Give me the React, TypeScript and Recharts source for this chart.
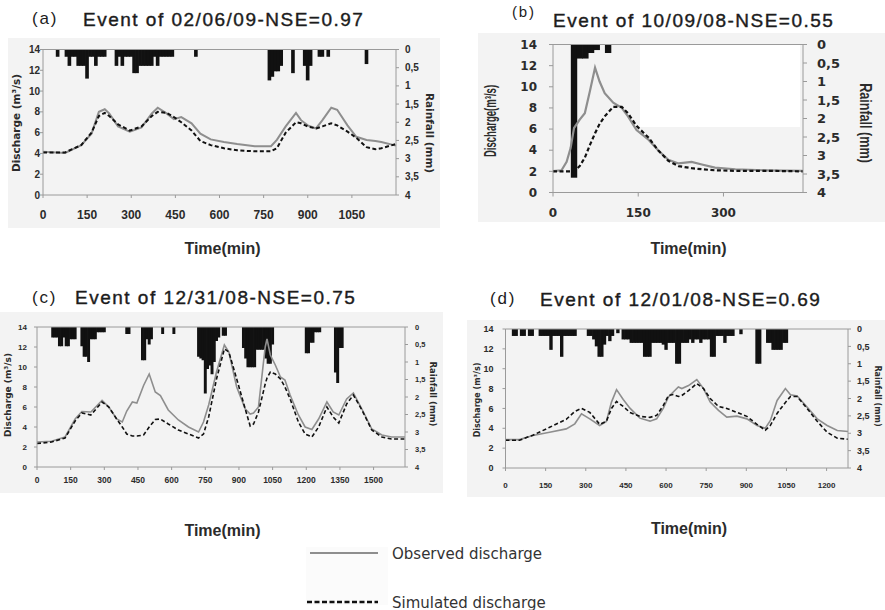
import { Bar, ComposedChart, Line, ReferenceLine, XAxis, YAxis } from "recharts";

// panel (a) event of 02/06/09
const timeA = [0, 75, 130, 165, 190, 210, 225, 255, 295, 335, 370, 390, 420, 445, 470, 505, 535, 570, 615, 660, 720, 775, 795, 825, 860, 877, 900, 928, 950, 980, 1000, 1035, 1065, 1100, 1130, 1150, 1200];
const obsA = [4.15, 4.05, 4.8, 5.9, 8.0, 8.25, 7.85, 6.6, 6.1, 6.5, 7.85, 8.4, 7.85, 7.3, 7.5, 6.9, 5.9, 5.35, 5.1, 4.9, 4.7, 4.7, 5.3, 6.6, 7.9, 7.2, 6.7, 6.4, 7.2, 8.4, 8.2, 6.7, 5.6, 5.3, 5.2, 5.1, 4.75];
const simA = [4.1, 4.1, 4.8, 6.0, 7.6, 7.9, 7.6, 6.8, 6.2, 6.6, 7.6, 8.0, 7.9, 7.5, 7.0, 6.2, 5.2, 4.8, 4.5, 4.3, 4.2, 4.2, 4.5, 6.0, 7.0, 6.9, 6.6, 6.4, 6.6, 6.9, 6.7, 6.1, 5.5, 4.6, 4.4, 4.5, 4.9];
const rainTimeA = [50, 80, 90, 100, 110, 120, 130, 140, 150, 160, 170, 180, 190, 200, 210, 250, 260, 270, 280, 290, 300, 310, 320, 330, 340, 350, 360, 370, 380, 390, 400, 410, 420, 430, 440, 520, 770, 780, 790, 800, 810, 850, 890, 900, 910, 940, 950, 970, 1100];
const rainA = [0.2, 0.2, 0.45, 0.2, 0.2, 0.45, 0.45, 0.45, 0.8, 0.2, 0.2, 0.45, 0.2, 0.2, 0.2, 0.45, 0.2, 0.45, 0.2, 0.2, 0.2, 0.65, 0.65, 0.45, 0.45, 0.45, 0.45, 0.45, 0.2, 0.45, 0.2, 0.2, 0.2, 0.2, 0.2, 0.2, 0.85, 0.75, 0.6, 0.6, 0.45, 0.65, 0.45, 0.85, 0.45, 0.2, 0.2, 0.2, 0.4];
const xTicksA = [0, 150, 300, 450, 600, 750, 900, 1050];

// panel (b) event of 10/09/08
const timeB = [0, 15, 24, 31, 37, 47, 56, 65, 74, 82, 91, 106, 121, 132, 147, 168, 185, 203, 221, 244, 262, 285, 321, 374, 440];
const obsB = [2.03, 2.1, 2.9, 4.2, 6.1, 6.9, 7.5, 9.6, 11.8, 10.5, 9.4, 8.5, 8.0, 7.2, 5.9, 5.0, 4.0, 3.1, 2.75, 2.9, 2.65, 2.35, 2.2, 2.1, 2.05];
const simB = [2.0, 2.0, 2.0, 2.0, 2.0, 2.5, 3.3, 4.5, 5.6, 6.5, 7.2, 8.1, 8.1, 7.5, 6.3, 5.2, 4.0, 3.0, 2.5, 2.3, 2.2, 2.1, 2.05, 2.05, 2.0];
const rainTimeB = [37, 47, 57, 67, 77, 97];
const rainB = [3.6, 0.38, 0.38, 0.23, 0.15, 0.23];
const xTicksB = [0, 150, 300];

// panel (c) event of 12/31/08
const timeC = [0, 65, 125, 170, 200, 240, 290, 320, 355, 380, 400, 425, 445, 475, 500, 527, 550, 585, 630, 675, 720, 742, 765, 800, 835, 855, 890, 928, 950, 965, 987, 1017, 1025, 1040, 1062, 1085, 1105, 1128, 1165, 1195, 1225, 1255, 1292, 1320, 1345, 1380, 1410, 1448, 1492, 1537, 1580, 1640];
const obsC = [2.5, 2.57, 3.0, 4.8, 5.55, 5.5, 6.65, 6.0, 4.8, 4.5, 5.6, 6.5, 6.4, 8.15, 9.3, 7.5, 7.15, 5.7, 4.7, 4.0, 3.5, 4.5, 6.2, 9.5, 12.2, 11.5, 8.0, 5.8, 5.3, 5.4, 6.0, 12.0, 12.8, 11.2, 10.2, 9.0, 8.7, 7.2, 5.2, 4.0, 3.75, 4.8, 6.5, 5.5, 5.2, 6.8, 7.4, 5.8, 3.8, 3.2, 3.0, 3.0];
const simC = [2.35, 2.5, 2.9, 4.6, 5.4, 5.2, 6.5, 6.0, 4.8, 4.0, 3.3, 3.1, 3.1, 3.2, 4.0, 4.75, 4.8, 4.3, 3.7, 3.3, 2.9, 3.3, 5.0, 8.8, 11.8, 11.5, 8.8, 5.8, 4.1, 4.3, 5.5, 8.3, 8.9, 9.5, 9.3, 8.8, 8.0, 6.8, 4.5, 3.3, 3.0, 4.0, 6.0, 5.0, 4.4, 6.3, 7.2, 5.7, 3.7, 3.0, 2.8, 2.8];
const rainTimeC = [70, 80, 90, 100, 110, 120, 130, 140, 150, 160, 170, 200, 210, 220, 230, 240, 250, 260, 270, 280, 290, 300, 400, 410, 470, 480, 490, 500, 510, 560, 610, 720, 730, 740, 750, 760, 770, 780, 790, 800, 810, 830, 840, 920, 930, 940, 950, 960, 970, 980, 990, 1000, 1010, 1020, 1030, 1040, 1050, 1200, 1210, 1220, 1230, 1240, 1250, 1260, 1330, 1340, 1350, 1360];
const rainC = [0.3, 0.3, 0.3, 0.55, 0.55, 0.3, 0.55, 0.55, 0.35, 0.35, 0.35, 0.55, 0.85, 0.85, 1.0, 0.35, 0.35, 0.35, 0.15, 0.15, 0.15, 0.15, 0.2, 0.2, 0.95, 0.95, 0.35, 0.5, 0.35, 0.2, 0.2, 0.85, 0.9, 0.95, 1.9, 1.2, 1.1, 1.35, 1.0, 0.4, 0.3, 0.25, 0.25, 0.6, 0.9, 1.15, 1.15, 1.15, 1.15, 0.65, 0.65, 0.65, 0.65, 0.9, 1.05, 1.05, 0.5, 0.75, 0.75, 0.45, 0.45, 0.15, 0.15, 0.15, 1.3, 1.6, 0.6, 0.6];
const xTicksC = [0, 150, 300, 450, 600, 750, 900, 1050, 1200, 1350, 1500];

// panel (d) event of 12/01/08
const timeD = [0, 52, 102, 165, 227, 259, 284, 315, 352, 377, 396, 415, 440, 465, 502, 540, 565, 590, 609, 627, 646, 659, 684, 715, 740, 765, 796, 827, 865, 902, 940, 971, 990, 1015, 1046, 1065, 1090, 1127, 1165, 1202, 1240, 1280];
const obsD = [2.86, 2.86, 3.27, 3.6, 3.94, 4.45, 5.46, 4.95, 4.28, 4.68, 6.64, 7.89, 6.9, 6.03, 5.02, 4.72, 4.95, 6.03, 7.15, 7.65, 8.16, 8.0, 8.3, 8.9, 8.0, 6.64, 5.8, 5.12, 5.22, 4.95, 4.28, 4.0, 4.79, 6.8, 8.0, 7.38, 7.25, 6.13, 4.95, 4.28, 3.77, 3.67];
const simD = [2.8, 2.8, 3.3, 4.1, 4.9, 5.7, 6.0, 5.6, 4.4, 4.7, 6.0, 6.7, 6.2, 5.6, 5.2, 5.1, 5.3, 6.3, 7.3, 7.4, 7.2, 7.3, 7.8, 8.5, 8.0, 7.0, 6.2, 6.0, 5.6, 5.2, 4.4, 3.8, 4.3, 5.5, 6.6, 7.2, 7.2, 6.0, 4.7, 3.6, 3.0, 2.9];
const rainTimeD = [30, 40, 60, 70, 90, 100, 130, 140, 150, 160, 170, 180, 190, 200, 210, 220, 230, 240, 250, 260, 310, 320, 330, 340, 350, 360, 370, 380, 390, 400, 420, 440, 450, 460, 470, 480, 490, 500, 510, 520, 530, 540, 550, 560, 570, 580, 590, 600, 610, 620, 630, 640, 650, 660, 670, 680, 690, 700, 710, 720, 730, 740, 750, 760, 770, 780, 790, 800, 810, 820, 830, 840, 850, 880, 940, 950, 980, 990, 1000, 1010, 1020, 1030, 1040, 1050];
const rainD = [0.2, 0.2, 0.2, 0.2, 0.2, 0.2, 0.2, 0.2, 0.2, 0.2, 0.6, 0.2, 0.2, 0.2, 0.8, 0.2, 0.2, 0.2, 0.2, 0.2, 0.2, 0.2, 0.3, 0.5, 0.8, 0.8, 0.45, 0.2, 0.35, 0.2, 0.12, 0.3, 0.3, 0.3, 0.4, 0.4, 0.4, 0.4, 0.4, 0.8, 0.8, 0.8, 0.4, 0.4, 0.4, 0.4, 0.45, 0.6, 0.4, 0.4, 0.4, 1.0, 1.0, 0.4, 0.4, 0.4, 0.3, 0.4, 0.3, 0.3, 0.4, 0.3, 0.3, 0.3, 0.8, 0.8, 0.2, 0.2, 0.2, 0.4, 0.2, 0.2, 0.2, 0.15, 1.0, 1.0, 0.4, 0.4, 0.6, 0.6, 0.6, 0.6, 0.4, 0.4];
const xTicksD = [0, 150, 300, 450, 600, 750, 900, 1050, 1200];

const qTicks = [0, 2, 4, 6, 8, 10, 12, 14];
const rTicks = [0, 0.5, 1, 1.5, 2, 2.5, 3, 3.5, 4];
const RAIN_STEP = 10;

const AXIS = "#9a9a9a";
const TEXT = "#2b2b2b";
const OBS = "#8e8e8e";
const SIM = "#111";
const BG = "#f3f3f3";
const ARIAL = "'Liberation Sans', Arial, sans-serif";
const DEJAVU = "'DejaVu Sans', sans-serif";

type Row = { t: number; obs?: number; sim?: number; rain?: number };

function buildRows(times: number[], obs: number[], sim: number[], rainTimes: number[], rain: number[]): Row[] {
  const rows: Row[] = times.map((t, i) => ({ t, obs: obs[i], sim: sim[i] }));
  rainTimes.forEach((t, i) => rows.push({ t, rain: rain[i] }));
  return rows.sort((a, b) => a.t - b.t);
}

const commaDecimal = (v: number) => String(v).replace(".", ",");

// bars keep the width of one 10-min rain step, centred on their time
const rainShape = (w: number) => (props: any) => {
  const { x, y, width, height } = props;
  if (!isFinite(x) || !isFinite(y) || !isFinite(height) || height === 0) return <g />;
  const top = Math.min(y, y + height);
  return <rect x={x + width / 2 - w / 2} y={top} width={w} height={Math.abs(height)} fill="#111" />;
};

type Font = { fontSize: number; fontFamily: string };

function Panel(p: {
  left: number; top: number; width: number; height: number;
  margin: { top: number; right: number; bottom: number; left: number };
  leftW: number; rightW: number; xH: number; xMax: number; xTicks: number[];
  times: number[]; obs: number[]; sim: number[]; rainTimes: number[]; rain: number[];
  fl: Font; fr: Font; fb: Font; ml: number; mr: number; mb: number; ts: number; lw: number;
}) {
  const rows = buildRows(p.times, p.obs, p.sim, p.rainTimes, p.rain);
  const plotW = p.width - p.margin.left - p.margin.right - p.leftW - p.rightW;
  const barW = (plotW / p.xMax) * RAIN_STEP + 0.7;
  const line = { stroke: AXIS, strokeWidth: 1 };
  return (
    <div style={{ position: "absolute", left: p.left, top: p.top }}>
      <ComposedChart width={p.width} height={p.height} data={rows} margin={p.margin}>
        <XAxis type="number" dataKey="t" domain={[0, p.xMax]} ticks={p.xTicks} interval={0} height={p.xH}
          tick={{ ...p.fb, fontWeight: 700, fill: TEXT }} tickSize={p.ts} tickMargin={p.mb} axisLine={line} tickLine={line} />
        <YAxis yAxisId="q" domain={[0, 14]} ticks={qTicks} interval={0} width={p.leftW}
          tick={{ ...p.fl, fontWeight: 700, fill: TEXT }} tickSize={p.ts} tickMargin={p.ml} axisLine={line} tickLine={line} />
        <YAxis yAxisId="r" orientation="right" reversed domain={[0, 4]} ticks={rTicks} interval={0} width={p.rightW}
          tickFormatter={commaDecimal} tick={{ ...p.fr, fontWeight: 700, fill: TEXT }} tickSize={p.ts} tickMargin={p.mr}
          axisLine={line} tickLine={line} />
        <ReferenceLine yAxisId="q" y={14} stroke={AXIS} />
        <Bar yAxisId="r" dataKey="rain" fill="#111" shape={rainShape(barW)} isAnimationActive={false} />
        <Line yAxisId="q" type="linear" dataKey="obs" stroke={OBS} strokeWidth={p.lw} dot={false} connectNulls isAnimationActive={false} />
        <Line yAxisId="q" type="linear" dataKey="sim" stroke={SIM} strokeWidth={p.lw} strokeDasharray="4 2.5" dot={false} connectNulls isAnimationActive={false} />
      </ComposedChart>
    </div>
  );
}

function VLabel({ x, y, text, size, family, dir, sx = 1, sy = 1 }: { x: number; y: number; text: string; size: number; family: string; dir: number; sx?: number; sy?: number }) {
  const off = 0.36 * size * sy;
  const bx = dir < 0 ? x + off : x - off;
  return (
    <text transform={`translate(${bx},${y}) rotate(${dir * 90}) scale(${sx},${sy})`} textAnchor="middle"
      fontSize={size} fontFamily={family} fontWeight="bold" fill={TEXT}>{text}</text>
  );
}

function Title({ x, y, tag, tagX, tagY, tagSize, text }: { x: number; y: number; tag: string; tagX: number; tagY: number; tagSize: number; text: string }) {
  return (
    <g fill="#1c1c1c" fontFamily={ARIAL}>
      <text x={tagX} y={tagY + 0.36 * tagSize} fontSize={tagSize} letterSpacing={1.8}>{tag}</text>
      <text x={x} y={y + 0.36 * 19} fontSize={19} letterSpacing={1.5} stroke="#1c1c1c" strokeWidth={0.4}>{text}</text>
    </g>
  );
}

function TimeLabel({ x, y }: { x: number; y: number }) {
  return <text x={x} y={y + 0.36 * 16} textAnchor="middle" fontSize={16} fontWeight="bold" fontFamily={ARIAL} fill={TEXT}>Time(min)</text>;
}

const box = (left: number, top: number, w: number, h: number, c: string) => (
  <div style={{ position: "absolute", left, top, width: w, height: h, background: c }} />
);

export default function App() {
  return (
    <div style={{ position: "absolute", left: 0, top: 0, width: 885, height: 610, background: "#fff", overflow: "hidden" }}>
      {box(8, 38, 432, 190, BG)}
      {box(478, 33, 407, 189, BG)}
      {box(640, 45, 160, 82, "#fff")}
      {box(0, 312, 443, 181, BG)}
      {box(467, 320, 418, 177, BG)}
      {box(306, 547, 82, 58, "#fbfbfb")}

      <Panel left={0} top={40} width={440} height={200} margin={{ top: 9.5, right: 10, bottom: 25, left: 13 }}
        leftW={30} rightW={34} xH={20} xMax={1200} xTicks={xTicksA}
        times={timeA} obs={obsA} sim={simA} rainTimes={rainTimeA} rain={rainA}
        fl={{ fontSize: 10, fontFamily: ARIAL }} fr={{ fontSize: 10, fontFamily: ARIAL }} fb={{ fontSize: 12, fontFamily: ARIAL }}
        ml={0} mr={6} mb={12} ts={3} lw={2} />
      <Panel left={470} top={30} width={415} height={200} margin={{ top: 14.5, right: 32, bottom: 17.5, left: 43 }}
        leftW={40} rightW={50} xH={20} xMax={440} xTicks={xTicksB}
        times={timeB} obs={obsB} sim={simB} rainTimes={rainTimeB} rain={rainB}
        fl={{ fontSize: 12, fontFamily: DEJAVU }} fr={{ fontSize: 13, fontFamily: DEJAVU }} fb={{ fontSize: 12, fontFamily: DEJAVU }}
        ml={12} mr={10} mb={12} ts={4} lw={2.2} />
      <Panel left={0} top={315} width={443} height={180} margin={{ top: 12, right: 13, bottom: 12, left: 12 }}
        leftW={25} rightW={25} xH={16} xMax={1640} xTicks={xTicksC}
        times={timeC} obs={obsC} sim={simC} rainTimes={rainTimeC} rain={rainC}
        fl={{ fontSize: 8, fontFamily: ARIAL }} fr={{ fontSize: 7.5, fontFamily: ARIAL }} fb={{ fontSize: 8.5, fontFamily: ARIAL }}
        ml={7} mr={7} mb={7} ts={3} lw={1.6} />
      <Panel left={465} top={318} width={420} height={177} margin={{ top: 11, right: 7, bottom: 11, left: 14.5 }}
        leftW={26} rightW={30} xH={16} xMax={1280} xTicks={xTicksD}
        times={timeD} obs={obsD} sim={simD} rainTimes={rainTimeD} rain={rainD}
        fl={{ fontSize: 9, fontFamily: ARIAL }} fr={{ fontSize: 9, fontFamily: ARIAL }} fb={{ fontSize: 8, fontFamily: ARIAL }}
        ml={9} mr={6} mb={11} ts={3} lw={1.6} />

      <svg width={885} height={610} style={{ position: "absolute", left: 0, top: 0, pointerEvents: "none" }}>
        <Title tag="(a)" tagX={32} tagY={18} tagSize={17} x={83} y={19} text="Event of 02/06/09-NSE=0.97" />
        <Title tag="(b)" tagX={512} tagY={12} tagSize={15} x={553} y={20} text="Event of 10/09/08-NSE=0.55" />
        <Title tag="(c)" tagX={32} tagY={297} tagSize={17} x={75} y={297.5} text="Event of 12/31/08-NSE=0.75" />
        <Title tag="(d)" tagX={490} tagY={298} tagSize={17} x={540} y={299} text="Event of 12/01/08-NSE=0.69" />

        <VLabel x={16} y={123} dir={-1} size={10.5} family={DEJAVU} text="Discharge (m³/s)" />
        <VLabel x={430} y={133} dir={1} size={10.5} family={DEJAVU} text="Rainfall (mm)" />
        <VLabel x={490} y={121} dir={-1} size={11} family={ARIAL} sx={0.87} sy={1.5} text="Discharge(m³/s)" />
        <VLabel x={866} y={123} dir={1} size={12} family={ARIAL} sx={1.05} sy={1.35} text="Rainfall (mm)" />
        <VLabel x={8} y={395} dir={-1} size={9} family={DEJAVU} text="Discharge (m³/s)" />
        <VLabel x={433} y={394} dir={1} size={8.5} family={DEJAVU} text="Rainfall (mm)" />
        <VLabel x={477} y={400} dir={-1} size={8} family={DEJAVU} text="Discharge (m³/s)" />
        <VLabel x={878} y={396} dir={1} size={8} family={DEJAVU} text="Rainfall (mm)" />

        <TimeLabel x={222.5} y={248} />
        <TimeLabel x={688.5} y={248} />
        <TimeLabel x={222.5} y={530} />
        <TimeLabel x={689} y={528} />

        <line x1={310} x2={378} y1={553} y2={553} stroke={OBS} strokeWidth={2} />
        <text x={392} y={558.5} fontSize={15} fontFamily={DEJAVU} fill="#333">Observed discharge</text>
        <line x1={307} x2={378} y1={602} y2={602} stroke={SIM} strokeWidth={2.5} strokeDasharray="5 2.5" />
        <text x={392} y={607.5} fontSize={15} fontFamily={DEJAVU} fill="#333">Simulated discharge</text>
      </svg>
    </div>
  );
}
